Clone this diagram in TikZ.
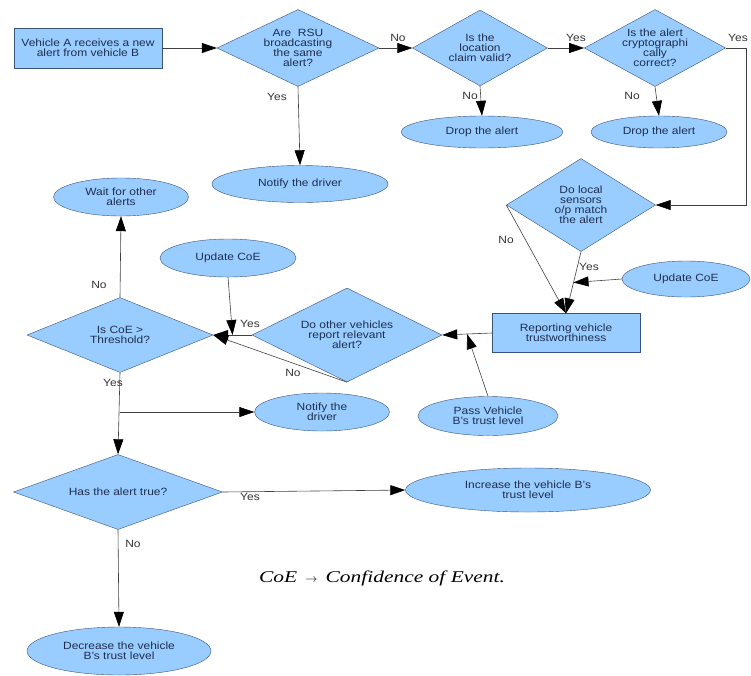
\documentclass[tikz,border=0pt]{standalone}
\usepackage{fontspec}
\setmainfont{Liberation Sans}[FakeStretch=1.14]
\newfontfamily\notefont{Liberation Serif}[FakeStretch=1.3]
\usetikzlibrary{shapes.geometric,arrows.meta,calc}
\definecolor{hblue}{HTML}{99CCFF}
\definecolor{hline}{HTML}{3A5478}
\definecolor{htext}{HTML}{1F2F4F}

\begin{document}
\begin{tikzpicture}[x=1pt,y=-1pt]

      \useasboundingbox (0,0) rectangle (751,675);

      \tikzset{
            box/.style = {draw=hline, fill=hblue, text=htext, inner sep=0pt, align=center,
                  font=\fontsize{10.5}{10}\selectfont},
            proc/.style = {box, rectangle},
            term/.style = {box, ellipse},
            decision/.style = {box, diamond, aspect=2},
            conn/.style = {draw=black!75, line width=0.6pt, -{Triangle[length=15pt,width=10pt,color=black]}},
            lbl/.style = {text=black!80, font=\fontsize{10.5}{10}\selectfont}
      }

      % Top row
      \node[proc, minimum width=148, minimum height=40] (start) at (88,48) {Vehicle A receives a new\\alert from vehicle B};
      \node[decision, minimum width=162, minimum height=77] (rsu) at (298,48) {Are~~RSU\\broadcasting\\the same\\alert?};
      \node[decision, minimum width=135, minimum height=76] (loc) at (480,48) {Is the\\location\\claim valid?};
      \node[decision, minimum width=135, minimum height=77] (crypto) at (655,48) {Is the alert\\cryptographi\\cally\\correct?};

      \node[term, minimum width=176, minimum height=37] (notify1) at (300,184) {Notify the driver};
      \node[term, minimum width=162, minimum height=32] (drop1) at (482,132) {Drop the alert};
      \node[term, minimum width=136, minimum height=32] (drop2) at (659,132) {Drop the alert};

      % Middle part
      \node[decision, aspect=1.6, minimum width=149, minimum height=93] (sensors) at (581,205) {Do local\\sensors\\o/p match\\the alert};
      \node[proc, minimum width=148, minimum height=39] (report) at (566,333) {Reporting vehicle\\trustworthiness};
      \node[term, minimum width=128, minimum height=36] (update2) at (686,279) {Update CoE};
      \node[term, minimum width=140, minimum height=39] (pass) at (488,416) {Pass Vehicle\\B's trust level};
      \node[decision, minimum width=190, minimum height=94] (others) at (347,335) {Do other vehicles\\report relevant\\alert?};
      \node[term, minimum width=136, minimum height=38] (update1) at (228,258) {Update CoE};
      \node[decision, aspect=2.5, minimum width=186, minimum height=75] (coe) at (120,335) {Is CoE >\\Threshold?};
      \node[term, minimum width=135, minimum height=38] (wait) at (121,197) {Wait for other\\alerts};
      \node[term, minimum width=135, minimum height=38] (notify2) at (322,412) {Notify the\\driver};

      % Bottom part
      \node[decision, aspect=2.8, minimum width=209, minimum height=75] (has) at (118,492) {Has the alert true?};
      \node[term, minimum width=245, minimum height=44] (increase) at (528,490) {Increase the vehicle B's\\trust level};
      \node[term, minimum width=184, minimum height=48] (decrease) at (119,651) {Decrease the vehicle\\B's trust level};

      \node (note) at (382,578) {\notefont\itshape\fontsize{16.5}{16.5}\selectfont CoE\enspace{\fontsize{12}{12}\selectfont$\rightarrow$}\enspace Confidence of Event.};

      % Connectors
      \draw[conn] (start.east) -- (rsu.west);
      \draw[conn] (rsu.south) -- (notify1.north);
      \draw[conn] (rsu.east) -- (loc.west);
      \draw[conn] (loc.south) -- (drop1.north);
      \draw[conn] (loc.east) -- (crypto.west);
      \draw[conn] (crypto.south) -- (drop2.north);
      \draw[conn] (crypto.east) -- ++(20,0) |- (sensors.east);
      \draw[conn] (sensors.west) -- (report.north);
      \draw[conn] (sensors.south) -- (report.north);
      \coordinate (coein) at ($(sensors.south)!0.5!(report.north)$);
      \draw[conn] (update2.west) -- (coein);
      \draw[conn] (report.west) -- (others.east);
      \coordinate (passin) at ($(others.east)!0.5!(report.west)$);
      \draw[conn] (pass.north) -- (passin);
      \draw[conn] (others.west) -- (coe.east);
      \draw[conn] (others.south) -- (coe.east);
      \coordinate (updin) at ($(coe.east)!0.5!(others.west)$);
      \draw[conn] (update1.south) -- (updin);
      \draw[conn] (coe.north) -- (wait.south);
      \coordinate (branch) at (coe.south |- notify2.west);
      \draw[conn] (coe.south) -- (has.north);
      \draw[conn] (branch) -- (notify2.west);
      \draw[conn] (has.east) -- (increase.west);
      \draw[conn] (has.south) -- (decrease.north);

      % Yes / No labels
      \node[lbl] (l1) at (398,38) {No};
      \node[lbl] (l2) at (277,97) {Yes};
      \node[lbl] (l3) at (470,96) {No};
      \node[lbl] (l4) at (576,38) {Yes};
      \node[lbl] (l5) at (632,96) {No};
      \node[lbl] (l6) at (738,38) {Yes};
      \node[lbl] (l7) at (506,240) {No};
      \node[lbl] (l8) at (589,267) {Yes};
      \node[lbl] (l9) at (250,324) {Yes};
      \node[lbl] (l10) at (293,373) {No};
      \node[lbl] (l11) at (99,285) {No};
      \node[lbl] (l12) at (113,383) {Yes};
      \node[lbl] (l13) at (250,497) {Yes};
      \node[lbl] (l14) at (133,544) {No};

\end{tikzpicture}
\end{document}
